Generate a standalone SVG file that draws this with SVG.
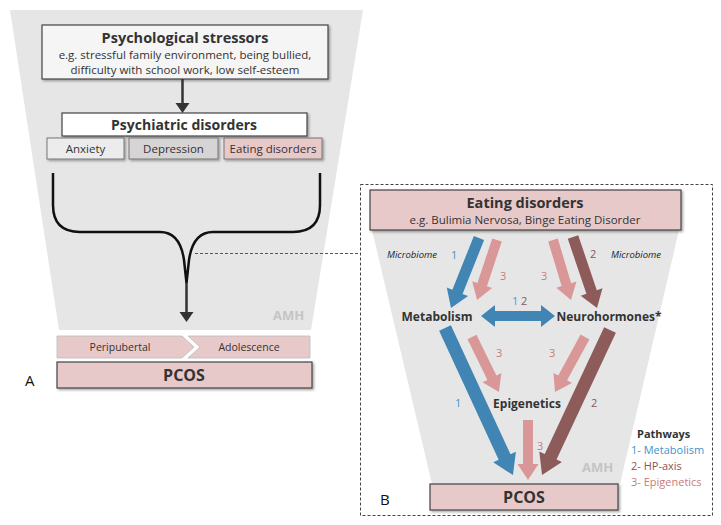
<svg xmlns="http://www.w3.org/2000/svg" width="721" height="525" viewBox="0 0 721 525">
<defs>
<filter id="sh" x="-10%" y="-20%" width="120%" height="150%">
<feDropShadow dx="1.5" dy="1.5" stdDeviation="1" flood-color="#000" flood-opacity="0.35"/>
</filter>
</defs>
<style>
text{font-family:"Open Sans","Noto Sans","Liberation Sans",sans-serif;fill:#333}
.box{stroke:#444;stroke-width:1.2}
.sub{stroke:#777;stroke-width:1}
.pink{fill:#e8c9c9}
.t{font-weight:bold;text-anchor:middle}
.c{text-anchor:middle}
.bg{fill:#e6e6e6}
.amh{font-weight:bold;fill:#c4c4c4;font-size:13px}
.blue{fill:#4185b5}
.pk{fill:#da9797}
.br{fill:#8e5b5b}
.lb{fill:#3f93cc;font-size:11px}
.lp{fill:#c97b7b;font-size:11px}
.lr{fill:#8b5656;font-size:11px}
.mic{font-style:italic;font-size:9.5px;fill:#222}
.leg{font-size:11px}
</style>

<!-- Panel A background -->
<polygon class="bg" points="10,10 363,10 311,330 59,330"/>
<text class="amh" x="273" y="320">AMH</text>

<g id="stressors">
<rect class="box" x="42" y="25" width="286" height="54" fill="#f5f5f5" filter="url(#sh)"/>
<text class="t" x="185" y="43" font-size="14.5">Psychological stressors</text>
<text class="c" x="185" y="59" font-size="11.5">e.g. stressful family environment, being bullied,</text>
<text class="c" x="185" y="74" font-size="11.5">difficulty with school work, low self-esteem</text>
</g>

<g id="psychiatric">
<rect class="box" x="62" y="113" width="245" height="23" fill="#ffffff" filter="url(#sh)"/>
<text class="t" x="184" y="130" font-size="14">Psychiatric disorders</text>
</g>
<g id="anxiety">
<rect class="sub" x="47" y="138" width="77" height="21" fill="#ececec" filter="url(#sh)"/>
<text class="c" x="85.5" y="153" font-size="11.5">Anxiety</text>
</g>
<g id="depression">
<rect class="sub" x="129" y="138" width="89" height="21" fill="#d6d4d5" filter="url(#sh)"/>
<text class="c" x="173.5" y="153" font-size="11.5">Depression</text>
</g>
<g id="eatingA">
<rect class="sub pink" x="224" y="138" width="98" height="21" filter="url(#sh)"/>
<text class="c" x="273" y="153" font-size="11.5">Eating disorders</text>
</g>

<g id="stages">
<polygon points="57,336 182,336 194,347 182,358 57,358" fill="#e8c9c9" stroke="#bbb" stroke-width="0.8"/>
<polygon points="188,336 310,336 310,358 188,358 200,347" fill="#e8c9c9" stroke="#bbb" stroke-width="0.8"/>
<text class="c" x="120" y="351" font-size="10.5">Peripubertal</text>
<text class="c" x="249" y="351" font-size="10.5">Adolescence</text>
</g>

<g id="pcosA">
<rect class="box pink" x="57" y="362" width="255" height="26" filter="url(#sh)"/>
<text class="t" x="184" y="381" font-size="16">PCOS</text>
</g>
<text x="25" y="386" font-size="15" style="fill:#111">A</text>

<!-- Panel B -->
<rect x="360.5" y="184.5" width="352" height="331" fill="none" stroke="#444" stroke-width="1" stroke-dasharray="3,2"/>
<polygon class="bg" points="372,230 679,230 620,484 432,484"/>
<text class="amh" x="582" y="472">AMH</text>

<g id="connectors">
<path d="M182.5,79 V106" stroke="#333" stroke-width="2.5" fill="none"/>
<polygon points="175.5,103 189.5,103 182.5,113" fill="#333"/>
<path d="M53,173 V205 Q53,232 80,232 H160 Q180,232 184,260 L186.5,283 L189,260 Q193,232 213,232 H293 Q320,232 320,205 V173" stroke="#111" stroke-width="2.5" fill="none"/>
<path d="M186.5,283 V314" stroke="#333" stroke-width="2.5" fill="none"/>
<polygon points="179.5,312 193.5,312 186.5,322" fill="#333"/>
<path d="M195,253.5 H360" stroke="#555" stroke-width="1" stroke-dasharray="3,2" fill="none"/>

<!-- B arrows -->
<g transform="translate(479,238) rotate(111.8)"><polygon class="blue" points="0,-5.5 58,-5.5 58,-11.5 75.4,0 58,11.5 58,5.5 0,5.5"/></g>
<g transform="translate(497,240) rotate(108.4)"><polygon class="pk" points="0,-5 47,-5 47,-10.5 63.2,0 47,10.5 47,5 0,5"/></g>
<g transform="translate(553,240) rotate(73.3)"><polygon class="pk" points="0,-5 46.6,-5 46.6,-10.5 62.6,0 46.6,10.5 46.6,5 0,5"/></g>
<g transform="translate(573,237) rotate(71.3)"><polygon class="br" points="0,-5.5 58,-5.5 58,-11.5 74.9,0 58,11.5 58,5.5 0,5.5"/></g>
<polygon class="blue" points="481,316 495,305 495,311 541,311 541,305 555,316 541,327 541,321 495,321 495,327"/>
<g transform="translate(445,328) rotate(65.2)"><polygon class="blue" points="0,-6.5 142,-6.5 142,-12.5 162,0 142,12.5 142,6.5 0,6.5"/></g>
<g transform="translate(472,337) rotate(63.9)"><polygon class="pk" points="0,-5 45.3,-5 45.3,-10.5 61.3,0 45.3,10.5 45.3,5 0,5"/></g>
<g transform="translate(585,337) rotate(118.6)"><polygon class="pk" points="0,-5 46.6,-5 46.6,-10.5 62.6,0 46.6,10.5 46.6,5 0,5"/></g>
<g transform="translate(610,330) rotate(115.1)"><polygon class="br" points="0,-6.5 140,-6.5 140,-12.5 160.2,0 140,12.5 140,6.5 0,6.5"/></g>
<g transform="translate(528,420) rotate(90)"><polygon class="pk" points="0,-5 44,-5 44,-10.5 60,0 44,10.5 44,5 0,5"/></g>
</g>

<g id="eatingB">
<rect class="box pink" x="370" y="190" width="311" height="40" filter="url(#sh)"/>
<text class="t" x="525" y="208" font-size="14.5">Eating disorders</text>
<text class="c" x="525" y="224" font-size="11.5">e.g. Bulimia Nervosa, Binge Eating Disorder</text>
</g>

<g id="metabolism"><text class="t" x="437" y="321" font-size="12">Metabolism</text></g>
<g id="neurohormones"><text class="t" x="609" y="321" font-size="12">Neurohormones*</text></g>
<g id="epigenetics"><text class="t" x="527" y="408" font-size="12">Epigenetics</text></g>

<g id="pcosB">
<rect class="box pink" x="430" y="484" width="188" height="26" filter="url(#sh)"/>
<text class="t" x="524" y="503" font-size="16">PCOS</text>
</g>
<text x="380" y="505" font-size="15" style="fill:#111">B</text>

<!-- labels -->
<text class="mic" x="387" y="258">Microbiome</text>
<text class="mic" x="611" y="258">Microbiome</text>
<text class="lb" x="451" y="259">1</text>
<text class="lr" x="590" y="258">2</text>
<text class="lp" x="500" y="280">3</text>
<text class="lp" x="541" y="280">3</text>
<text class="lb" x="512" y="305" style="fill:#2fa3e6">1</text>
<text class="lr" x="521" y="305">2</text>
<text class="lp" x="496" y="357">3</text>
<text class="lp" x="549" y="357">3</text>
<text class="lb" x="455" y="407">1</text>
<text class="lr" x="591" y="407">2</text>
<text class="lp" x="537" y="450">3</text>

<g id="legend">
<text class="leg" x="637" y="438" font-weight="bold">Pathways</text>
<text class="lb leg" x="631" y="454">1- Metabolism</text>
<text class="lr leg" x="631" y="470">2- HP-axis</text>
<text class="lp leg" x="631" y="486">3- Epigenetics</text>
</g>
</svg>
